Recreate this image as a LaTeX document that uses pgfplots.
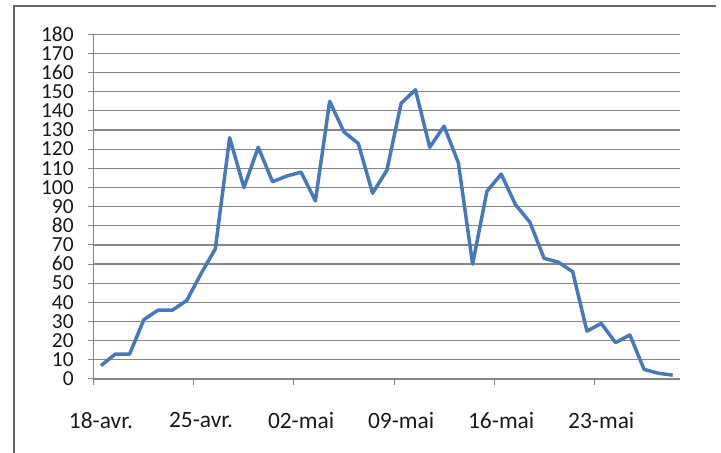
\documentclass[border=0pt]{standalone}
\usepackage{pgfplots}
\pgfplotsset{compat=1.18}
\usepackage{fontspec}
\setmainfont{Carlito}
\definecolor{serie}{RGB}{70,120,190}
\definecolor{grille}{RGB}{134,134,134}
\definecolor{cadre}{RGB}{100,100,100}

% Cas quotidiens, jour 0 = 18 avril
\pgfplotstableread{
jour valeur
0 7
1 13
2 13
3 31
4 36
5 36
6 41
7 55
8 68
9 126
10 100
11 121
12 103
13 106
14 108
15 93
16 145
17 129
18 123
19 97
20 109
21 144
22 151
23 121
24 132
25 113
26 60
27 98
28 107
29 91
30 82
31 63
32 61
33 56
34 25
35 29
36 19
37 23
38 5
39 3
40 2
}\cas

\begin{document}
\begin{tikzpicture}[x=1bp,y=1bp]
\path[use as bounding box] (0,0) rectangle (721,453);
\draw[cadre, line width=2bp] (14,0) -- (14,447) -- (716,447);
\begin{axis}[
  at={(101bp,74bp)}, anchor=origin,
  scale only axis,
  width=586bp, height=344.7bp,
  xmin=-0.5, xmax=40.5,
  ymin=0, ymax=180,
  ytick={0,10,...,180},
  xtick={0,7,14,21,28,35},
  xticklabels={18-avr.,25-avr.,02-mai,09-mai,16-mai,23-mai},
  extra x ticks={-0.5,6.5,13.5,20.5,27.5,34.5},
  extra x tick labels={},
  extra x tick style={xtick style={draw=grille, line width=1bp}},
  major tick length=6bp,
  xtick style={draw=none},
  ytick style={draw=grille, line width=1bp},
  ymajorgrids,
  grid style={grille, line width=1.2bp},
  axis x line*=bottom,
  axis y line*=left,
  axis line style={grille, line width=1.2bp},
  tick align=outside,
  /pgf/number format/assume math mode=true,
  yticklabel style={font=\fontsize{21.5}{22}\selectfont, text=black!90,
    inner ysep=0bp, inner xsep=0bp, text height=13.5bp, text depth=0bp,
    xshift=-14bp},
  xticklabel style={font=\fontsize{23.5}{24}\selectfont, text=black!90,
    yshift=-24bp},
  clip=false,
]
\addplot[serie, line width=3.5bp, line join=round] table[x=jour, y=valeur] {\cas};
\end{axis}
\end{tikzpicture}
\end{document}
